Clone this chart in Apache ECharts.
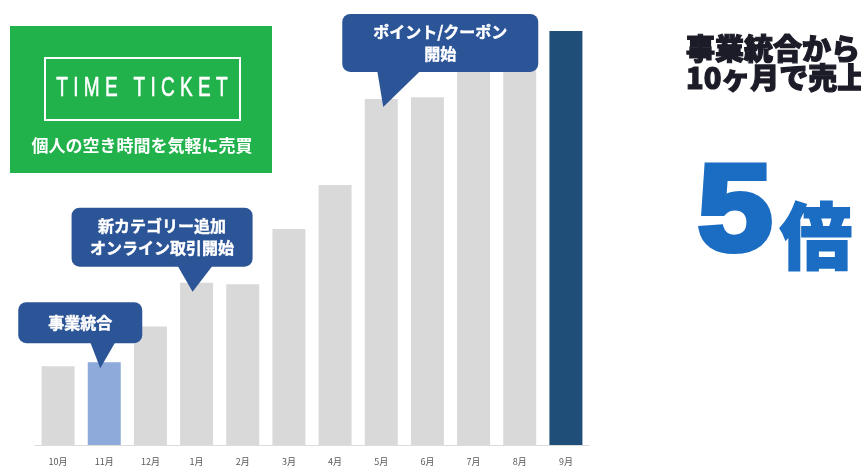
<!DOCTYPE html>
<html>
<head>
<meta charset="utf-8">
<title>TIME TICKET 売上推移</title>
<script src="https://cdn.jsdelivr.net/npm/echarts@6/dist/echarts.min.js"></script>
<style>
  html, body { margin: 0; padding: 0; background: #fff; }
  #chart { width: 861px; height: 466px; }
</style>
</head>
<body>
<div id="chart"></div>
<script>
  // 月別の売上（11月 = 100 とした相対値、図から読み取り）
  let months = ['10月', '11月', '12月', '1月', '2月', '3月', '4月', '5月', '6月', '7月', '8月', '9月'];
  let sales = [95, 100, 143, 196, 194, 261, 314, 418, 420, 460, 470, 500];
  let barColors = ['#d9d9d9', '#8eaadb', '#d9d9d9', '#d9d9d9', '#d9d9d9', '#d9d9d9',
    '#d9d9d9', '#d9d9d9', '#d9d9d9', '#d9d9d9', '#d9d9d9', '#1f4e79'];

  // 吹き出し（どの棒を指すか）
  let calloutMonths = ['11月', '1月', '5月'];
  let calloutTexts = ['事業統合', '新カテゴリー追加\nオンライン取引開始', 'ポイント/クーポン\n開始'];

  let jp = '"Noto Sans CJK JP", "Noto Sans", sans-serif';
  let myChart = echarts.init(document.getElementById('chart'), null, { renderer: 'canvas' });

  let option = {
    backgroundColor: '#fff',
    animation: false,
    grid: {
      left: 35,
      width: 554,
      top: 31,
      bottom: 21
    },
    xAxis: {
      type: 'category',
      data: months,
      axisTick: { show: false },
      axisLine: { lineStyle: { color: '#dcdcdc', width: 1 } },
      axisLabel: {
        color: '#595959',
        fontSize: 9,
        margin: 12,
        fontFamily: jp
      }
    },
    yAxis: {
      type: 'value',
      min: 0,
      max: 500,
      show: false,
      splitLine: { show: false }
    },
    series: [{
      type: 'bar',
      barWidth: 33,
      z: 2,
      data: sales.map(function (v, i) {
        return { value: v, itemStyle: { color: barColors[i] } };
      })
    }]
  };
  myChart.setOption(option);

  // 吹き出しのレイアウト（先端からの相対位置）
  let calloutLayout = [
    { dx: -4, dy: 6, box: [-82, -66, 124, 41], base: [-10, 15] },
    { dx: -4, dy: 9, box: [-121, -84, 181, 59], base: [-15, 20] },
    { dx: 2, dy: 8, box: [-41, -93, 196, 58], base: [-6, 37] }
  ];

  let graphics = [];

  // 左上のロゴ
  graphics.push({
    type: 'rect', z: 10,
    shape: { x: 10, y: 26, width: 262, height: 147 },
    style: { fill: '#22b24c' }
  });
  graphics.push({
    type: 'rect', z: 11,
    shape: { x: 45, y: 58, width: 195, height: 62 },
    style: { fill: 'none', stroke: '#fff', lineWidth: 2 }
  });
  graphics.push({
    type: 'text', z: 12,
    x: 142, y: 88,
    scaleX: 0.68,
    style: {
      text: 'T I M E   T I C K E T',
      fill: '#fff',
      stroke: '#fff',
      lineWidth: 0.6,
      font: '28px "Liberation Sans", sans-serif',
      align: 'center',
      verticalAlign: 'middle'
    }
  });
  graphics.push({
    type: 'text', z: 12,
    x: 142, y: 146,
    style: {
      text: '個人の空き時間を気軽に売買',
      fill: '#fff',
      font: 'bold 17px ' + jp,
      align: 'center',
      verticalAlign: 'middle'
    }
  });

  // 吹き出し
  calloutMonths.forEach(function (m, i) {
    let idx = months.indexOf(m);
    let p = myChart.convertToPixel({ seriesIndex: 0 }, [idx, sales[idx]]);
    let L = calloutLayout[i];
    let tx = p[0] + L.dx, ty = p[1] + L.dy;
    let bx = tx + L.box[0], by = ty + L.box[1], bw = L.box[2], bh = L.box[3];
    graphics.push({
      type: 'rect', z: 20,
      shape: { x: bx, y: by, width: bw, height: bh, r: 8 },
      style: { fill: '#2c5597' }
    });
    graphics.push({
      type: 'polygon', z: 20,
      shape: { points: [[tx + L.base[0], by + bh - 1], [tx + L.base[1], by + bh - 1], [tx, ty]] },
      style: { fill: '#2c5597' }
    });
    graphics.push({
      type: 'text', z: 21,
      x: bx + bw / 2, y: by + bh / 2,
      style: {
        text: calloutTexts[i],
        fill: '#fff',
        stroke: '#fff',
        lineWidth: 0.4,
        font: 'bold 16px ' + jp,
        lineHeight: 22,
        align: 'center',
        verticalAlign: 'middle'
      }
    });
  });

  // 右側のメッセージ
  graphics.push({
    type: 'text', z: 10,
    x: 686, y: 34,
    style: {
      text: '事業統合から\n10ヶ月で売上',
      fill: '#1c1c28',
      font: '900 29px ' + jp,
      lineHeight: 29,
      stroke: '#1c1c28',
      lineWidth: 1.2,
      align: 'left',
      verticalAlign: 'top'
    }
  });
  graphics.push({
    type: 'text', z: 10,
    x: 735, y: 216,
    scaleX: 1.1,
    style: {
      text: '5',
      fill: '#1a6dc2',
      font: '900 122px "Liberation Sans", Roboto, sans-serif',
      stroke: '#1a6dc2',
      lineWidth: 6,
      align: 'center',
      verticalAlign: 'middle'
    }
  });
  graphics.push({
    type: 'text', z: 10,
    x: 816, y: 236,
    style: {
      text: '倍',
      fill: '#1a6dc2',
      font: '900 72px ' + jp,
      stroke: '#1a6dc2',
      lineWidth: 2,
      align: 'center',
      verticalAlign: 'middle'
    }
  });

  myChart.setOption({ graphic: graphics });
</script>
</body>
</html>
